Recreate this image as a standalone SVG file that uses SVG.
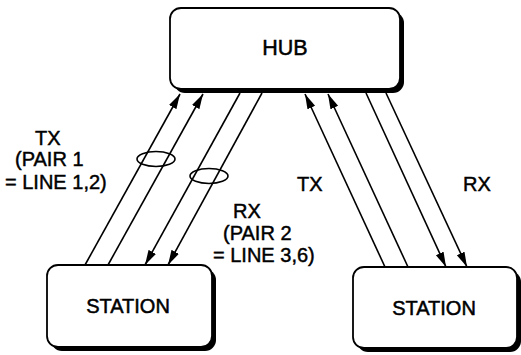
<svg xmlns="http://www.w3.org/2000/svg" width="521" height="355" viewBox="0 0 521 355">
<style>
.box{fill:#fff;stroke:#000;stroke-width:1.8}
.shadow{fill:#000}
.lbl{font-family:"Liberation Sans",Arial,sans-serif;font-size:20px;fill:#000;stroke:#000;stroke-width:0.45}
.name{font-family:"Liberation Sans",Arial,sans-serif;font-size:20px;fill:#000;stroke:#000;stroke-width:0.5;text-anchor:middle}
.wire{stroke:#000;stroke-width:1.6;fill:none}
.pair{stroke:#000;stroke-width:1.6;fill:none}
</style>
<defs>
<marker id="ah" markerUnits="userSpaceOnUse" markerWidth="16" markerHeight="10" refX="15" refY="5" orient="auto">
<path d="M0,0.8 L15,5 L0,9.2 Z" fill="#000"/>
</marker>
</defs>
<rect width="521" height="355" fill="#fff"/>
<g id="hub">
<rect class="shadow" x="174" y="12" width="230" height="81" rx="11"/>
<rect class="box" x="170" y="8" width="230" height="81" rx="11"/>
<text class="name" x="285" y="55" style="font-size:21.5px">HUB</text>
</g>
<g id="station-left">
<rect class="shadow" x="51" y="269" width="165" height="82" rx="11"/>
<rect class="box" x="47" y="265" width="165" height="82" rx="11"/>
<text class="name" x="128" y="313">STATION</text>
</g>
<g id="station-right">
<rect class="shadow" x="357" y="271" width="164" height="81" rx="11"/>
<rect class="box" x="353" y="267" width="164" height="81" rx="11"/>
<text class="name" x="434" y="315">STATION</text>
</g>
<g id="connectors">
<line class="wire" x1="85" y1="265" x2="180" y2="94" marker-end="url(#ah)"/>
<line class="wire" x1="108" y1="265" x2="203" y2="94" marker-end="url(#ah)"/>
<line class="wire" x1="240" y1="93" x2="145" y2="265" marker-end="url(#ah)"/>
<line class="wire" x1="262" y1="93" x2="168" y2="265" marker-end="url(#ah)"/>
<line class="wire" x1="385" y1="267" x2="305" y2="94" marker-end="url(#ah)"/>
<line class="wire" x1="408" y1="267" x2="328" y2="94" marker-end="url(#ah)"/>
<line class="wire" x1="366" y1="93" x2="446" y2="267" marker-end="url(#ah)"/>
<line class="wire" x1="386" y1="93" x2="467" y2="267" marker-end="url(#ah)"/>
<ellipse class="pair" cx="156" cy="159" rx="19" ry="7.5"/>
<ellipse class="pair" cx="209" cy="176" rx="19" ry="7.5"/>
</g>
<g id="labels">
<text class="lbl" x="35" y="145">TX</text>
<text class="lbl" x="15" y="166">(PAIR 1</text>
<text class="lbl" x="5" y="189">= LINE 1,2)</text>
<text class="lbl" x="233" y="218">RX</text>
<text class="lbl" x="223" y="240">(PAIR 2</text>
<text class="lbl" x="213" y="262">= LINE 3,6)</text>
<text class="lbl" x="297" y="191">TX</text>
<text class="lbl" x="463" y="191">RX</text>
</g>
</svg>
